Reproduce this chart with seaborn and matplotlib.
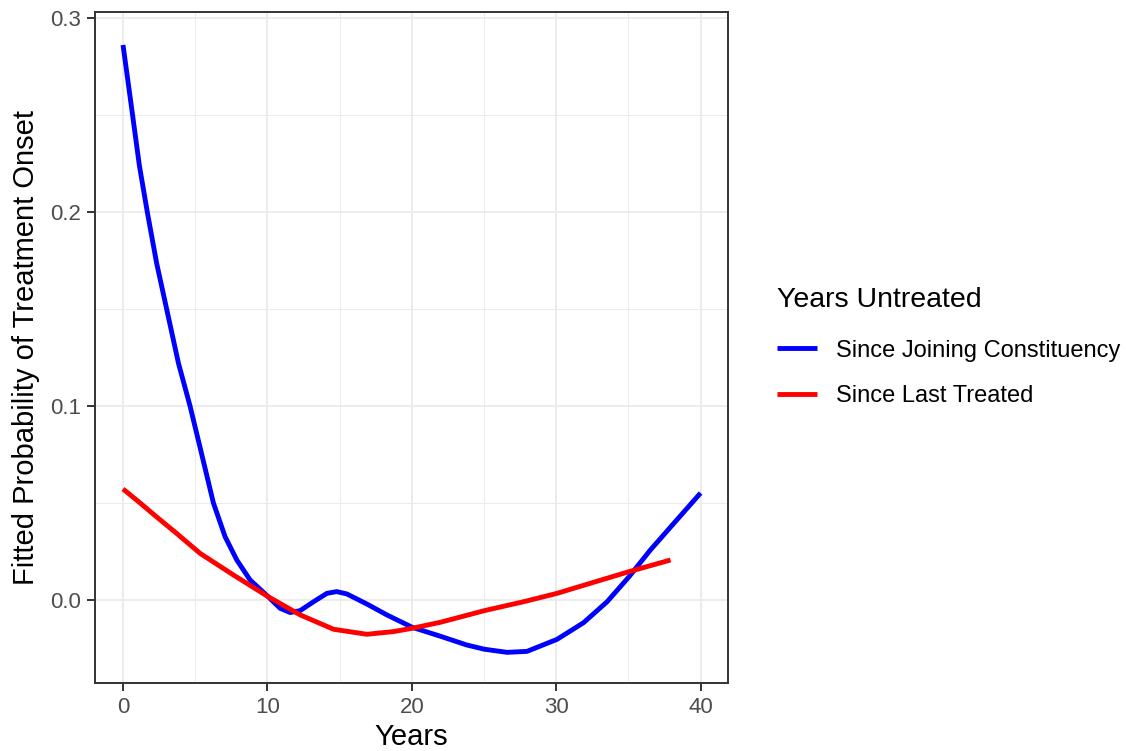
import matplotlib
matplotlib.use('Agg')
import matplotlib.pyplot as plt
import seaborn as sns
import pandas as pd
from matplotlib.ticker import MultipleLocator, FormatStrFormatter

sns.set_style('white')
plt.rcParams['font.family'] = ['Liberation Sans', 'DejaVu Sans']
plt.rcParams['text.color'] = 'black'

# values
joiningYears = [0, 0.66, 1.13, 1.68, 2.33, 3.02, 3.84, 4.64, 5.34, 6.26, 7.07, 7.88,
                8.8, 10.05, 10.88, 11.58, 12.27, 13.2, 14.12, 14.8, 15.5, 16.89,
                18.27, 20.03, 21.98, 23.8, 25.03, 26.6, 27.98, 30.06, 31.9, 33.53,
                35.05, 36.53, 38.15, 40]
joiningProb = [0.286, 0.25, 0.224, 0.2, 0.1735, 0.15, 0.122, 0.1, 0.0785, 0.05,
               0.0326, 0.0206, 0.0103, 0.0017, -0.0043, -0.0065, -0.0055, -0.0009,
               0.0034, 0.0043, 0.0031, -0.0021, -0.0077, -0.0141, -0.0187, -0.0232,
               -0.0254, -0.027, -0.0265, -0.0203, -0.0117, -0.0009, 0.012, 0.0258,
               0.0395, 0.0551]
lastYears = [0, 1.1, 2.26, 3.6, 5.34, 7.64, 10.05, 12.27, 14.58, 16.89, 18.74, 20.03,
             21.98, 23.36, 25.03, 27.75, 30.06, 32.37, 35.05, 37.92]
lastProb = [0.0572, 0.0505, 0.0432, 0.035, 0.024, 0.0129, 0.0017, -0.0077, -0.0151,
            -0.0177, -0.0163, -0.0146, -0.0115, -0.0088, -0.0055, -0.0009, 0.0034,
            0.0086, 0.0146, 0.0206]
seriesNames = ['Since Joining Constituency', 'Since Last Treated']
seriesColors = ['#0000FF', '#FF0000']

df = pd.concat([
    pd.DataFrame({'years': joiningYears, 'prob': joiningProb, 'series': seriesNames[0]}),
    pd.DataFrame({'years': lastYears, 'prob': lastProb, 'series': seriesNames[1]}),
])

fig = plt.figure(figsize=(11.26, 7.51), dpi=100)
ax = fig.add_axes([95 / 1126, 68 / 751, 633 / 1126, 671 / 751])

sns.lineplot(data=df, x='years', y='prob', hue='series', hue_order=seriesNames,
             palette=seriesColors, linewidth=3.5, ax=ax, sort=False,
             solid_capstyle='butt', solid_joinstyle='round')

ax.set_xlim(-1.94, 41.9)
ax.set_ylim(-0.0428, 0.303)
ax.xaxis.set_major_locator(MultipleLocator(10))
ax.xaxis.set_minor_locator(MultipleLocator(5))
ax.yaxis.set_major_locator(MultipleLocator(0.1))
ax.yaxis.set_minor_locator(MultipleLocator(0.05))
ax.yaxis.set_major_formatter(FormatStrFormatter('%.1f'))

# ggplot theme_bw look
ax.grid(True, which='major', color='#EBEBEB', linewidth=1.3)
ax.grid(True, which='minor', color='#EBEBEB', linewidth=0.7)
ax.set_axisbelow(True)
for s in ax.spines.values():
    s.set_color('#333333')
    s.set_linewidth(1.4)
ax.tick_params(which='major', direction='out', length=6, width=1.4, color='#333333',
               labelsize=16, labelcolor='#4D4D4D', left=True, bottom=True, pad=4)
ax.tick_params(which='minor', length=0)

ax.set_xlabel('Years', fontsize=21, color='black', labelpad=4)
ax.set_ylabel('Fitted Probability of Treatment Onset', fontsize=21, color='black', labelpad=7)

leg = ax.legend(title='Years Untreated', loc='upper left', bbox_to_anchor=(756 / 1126, 1 - 266 / 751),
                bbox_transform=fig.transFigure, frameon=False, fontsize=17, title_fontsize=20.5,
                handlelength=1.7, handletextpad=0.78, labelspacing=1.0, alignment='left')
leg._legend_box.sep = 19
leg.get_title().set_color('black')
for t in leg.get_texts():
    t.set_color('black')
for line in leg.get_lines():
    line.set_linewidth(3.5)
    line.set_solid_capstyle('butt')

fig.savefig('out.png', dpi=100)
